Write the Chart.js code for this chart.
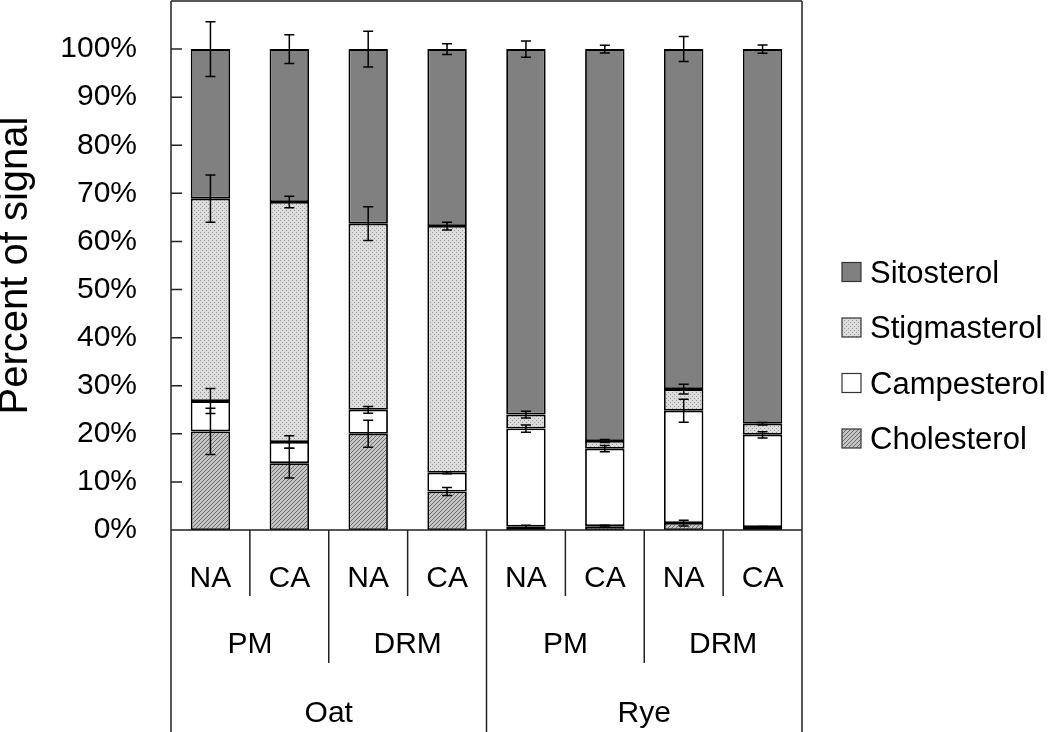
<!DOCTYPE html>
<html><head><meta charset="utf-8">
<script src="https://cdn.jsdelivr.net/npm/chart.js@4.4.0/dist/chart.umd.min.js"></script>
<style>html,body{margin:0;padding:0;background:#fff}#wrap{width:1050px;height:732px;position:relative}</style>
</head><body><div id="wrap"><canvas id="c" width="1050" height="732"></canvas></div>
<script>
// ---- data ----
const categories = ['NA','CA','NA','CA','NA','CA','NA','CA'];
const membranes = ['PM','DRM','PM','DRM'];
const species = ['Oat','Rye'];
const seriesNames = ['Cholesterol','Campesterol','Stigmasterol','Sitosterol'];
const cholesterol  = [20.5, 13.9, 20.0,  8.0,  0.7,  0.8,  1.45,  0.6];
const campesterol  = [ 6.3,  4.4,  5.0,  3.9, 20.4, 16.1, 23.35, 19.2];
const stigmasterol = [42.1, 49.9, 38.7, 51.3,  2.9,  1.6,  4.5,   2.3];
const sitosterol   = [31.1, 31.8, 36.3, 36.8, 76.0, 81.5, 70.7,  77.9];
const cholesterolErr  = [4.8, 3.1, 2.8, 0.85, 0.3,  0.2,  0.6, 0.15];
const campesterolErr  = [2.6, 1.3, 0.7, 0.2,  0.75, 0.65, 2.4, 0.65];
const stigmasterolErr = [4.9, 1.2, 3.5, 0.8,  0.7,  0.3,  1.0, 0.25];
const sitosterolErr   = [5.7, 3.0, 3.7, 1.1,  1.7,  0.8,  2.6, 0.85];
const yTickValues = [0,10,20,30,40,50,60,70,80,90,100];

const seriesValues = [cholesterol, campesterol, stigmasterol, sitosterol];
const seriesErrors = [cholesterolErr, campesterolErr, stigmasterolErr, sitosterolErr];

const FONT = '"Liberation Sans", Arial, Helvetica, sans-serif';

function makePattern(kind){
  const c = document.createElement('canvas'); c.width = 4; c.height = 4;
  const g = c.getContext('2d');
  if (kind === 'stig') {
    g.fillStyle = '#dcdcdc'; g.fillRect(0,0,4,4);
    g.fillStyle = '#9a9a9a'; g.fillRect(0,0,1,1); g.fillRect(2,2,1,1);
  } else if (kind === 'chol') {
    g.fillStyle = '#c4c4c4'; g.fillRect(0,0,4,4);
    g.fillStyle = '#6c6c6c';
    g.fillRect(0,3,1,1); g.fillRect(1,2,1,1); g.fillRect(2,1,1,1); g.fillRect(3,0,1,1);
  }
  return g.createPattern(c, 'repeat');
}
const fills = [makePattern('chol'), '#ffffff', makePattern('stig'), '#808080'];

const LINE = '#222';

const decor = {
  id: 'decor',
  afterDatasetsDraw(chart){
    const ctx = chart.ctx, ys = chart.scales.y;
    ctx.save();
    ctx.strokeStyle = '#000'; ctx.lineWidth = 1.5;
    for (let d = 0; d < seriesValues.length; d++){
      const meta = chart.getDatasetMeta(d);
      for (let i = 0; i < categories.length; i++){
        const el = meta.data[i];
        const top = ys.getValueForPixel(el.y);
        const e = seriesErrors[d][i];
        const y1 = ys.getPixelForValue(top + e), y2 = ys.getPixelForValue(top - e);
        const x = el.x;
        ctx.beginPath();
        ctx.moveTo(x, y1); ctx.lineTo(x, y2);
        ctx.moveTo(x-5, y1); ctx.lineTo(x+5, y1);
        ctx.moveTo(x-5, y2); ctx.lineTo(x+5, y2);
        ctx.stroke();
      }
    }
    ctx.restore();
  },
  afterDraw(chart){
    const ctx = chart.ctx, ys = chart.scales.y, xs = chart.scales.x, a = chart.chartArea;
    const H = chart.height;
    ctx.save();
    ctx.strokeStyle = LINE; ctx.lineWidth = 1.5;
    ctx.beginPath();
    ctx.moveTo(a.left, a.top); ctx.lineTo(a.right, a.top);
    ctx.moveTo(a.left, a.top); ctx.lineTo(a.left, H);
    ctx.moveTo(a.right, a.top); ctx.lineTo(a.right, H);
    ctx.moveTo(a.left, a.bottom); ctx.lineTo(a.right, a.bottom);
    yTickValues.forEach(v => {
      const y = ys.getPixelForValue(v);
      ctx.moveTo(a.left, y); ctx.lineTo(a.left + 11, y);
    });
    for (let i = 0; i < categories.length - 1; i++){
      const x = (xs.getPixelForValue(i) + xs.getPixelForValue(i+1)) / 2;
      let yEnd = 596;
      if (i % 4 === 3) yEnd = H; else if (i % 2 === 1) yEnd = 663;
      ctx.moveTo(x, a.bottom); ctx.lineTo(x, yEnd);
    }
    ctx.stroke();

    ctx.fillStyle = '#000';
    ctx.textAlign = 'center'; ctx.textBaseline = 'alphabetic';
    ctx.font = '30px ' + FONT;
    categories.forEach((t, i) => ctx.fillText(t, xs.getPixelForValue(i), 587));
    membranes.forEach((t, j) => {
      const x = (xs.getPixelForValue(2*j) + xs.getPixelForValue(2*j+1)) / 2;
      ctx.fillText(t, x, 653);
    });
    species.forEach((t, k) => {
      const x = (xs.getPixelForValue(4*k) + xs.getPixelForValue(4*k+3)) / 2;
      ctx.fillText(t, x, 722);
    });

    ctx.font = '31px ' + FONT;
    ctx.textAlign = 'left';
    const order = [3,2,1,0];
    order.forEach((d, r) => {
      const cy = 272 + r * 55.5;
      ctx.fillStyle = fills[d];
      ctx.fillRect(842, cy - 9.5, 19, 19);
      ctx.strokeStyle = '#333'; ctx.lineWidth = 1.2;
      ctx.strokeRect(842, cy - 9.5, 19, 19);
      ctx.fillStyle = '#000';
      ctx.fillText(seriesNames[d], 870, cy + 10.5);
    });
    ctx.restore();
  }
};

new Chart(document.getElementById('c'), {
  type: 'bar',
  data: {
    labels: categories.map((c, i) => c + i),
    datasets: seriesNames.map((name, d) => ({
      label: name,
      data: seriesValues[d],
      backgroundColor: fills[d],
      borderColor: '#000',
      borderWidth: 1.8,
      borderSkipped: false,
      barPercentage: 0.5,
      categoryPercentage: 1.0
    }))
  },
  options: {
    responsive: false,
    animation: false,
    devicePixelRatio: 1,
    layout: { padding: { left: 0, top: 1, right: 248, bottom: 202 } },
    plugins: { legend: { display: false }, tooltip: { enabled: false } },
    scales: {
      x: { stacked: true, display: false },
      y: {
        stacked: true, min: 0, max: 110,
        grid: { display: false, drawTicks: false },
        border: { display: false },
        afterBuildTicks(scale){ scale.ticks = yTickValues.map(v => ({ value: v })); },
        afterFit(scale){ scale.width = 171; scale.paddingTop = 0; scale.paddingBottom = 0; },
        ticks: {
          padding: 34, color: '#000',
          font: { size: 30, family: FONT },
          callback: v => v + '%'
        },
        title: {
          display: true, text: 'Percent of signal', color: '#000', padding: 0,
          font: { size: 40, family: FONT, lineHeight: 0.8 }
        }
      }
    }
  },
  plugins: [decor]
});
</script>
</body></html>
